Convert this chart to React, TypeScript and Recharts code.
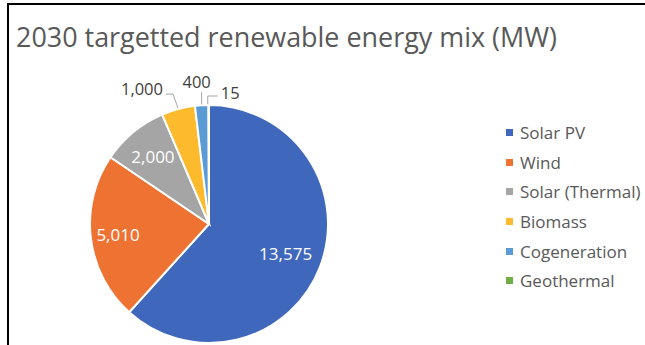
import { Legend, Pie, PieChart, Cell } from "recharts";

const sources = ["Solar PV", "Wind", "Solar (Thermal)", "Biomass", "Cogeneration", "Geothermal"];
const capacityMW = [13575, 5010, 2000, 1000, 400, 15];
const sliceColors = ["#3F68BC", "#EE7232", "#A5A5A5", "#FDBA2C", "#5B9BD5", "#70AD47"];

const data = sources.map((name, i) => ({ name, value: capacityMW[i] }));

const RADIAN = Math.PI / 180;
const FONT = "'Open Sans', 'Noto Sans', sans-serif";

// inside labels sit at a fraction of the radius, outside ones get a leader line
const insideFactor = [0.69, 0.77, 0.74];

// eslint-disable-next-line @typescript-eslint/no-explicit-any
function SliceLabel({ cx, cy, midAngle, outerRadius, index, value }: any) {
  const text = Number(value).toLocaleString("en-US");
  const cos = Math.cos(-midAngle * RADIAN);
  const sin = Math.sin(-midAngle * RADIAN);
  if (index < 3) {
    const r = outerRadius * insideFactor[index];
    return (
      <text
        x={cx + r * cos}
        y={cy + r * sin}
        fill="#fff"
        fontSize={17}
        fontFamily={FONT}
        textAnchor="middle"
        dominantBaseline="central"
      >
        {text}
      </text>
    );
  }
  const ex = cx + (outerRadius + 1) * cos;
  const ey = cy + (outerRadius + 1) * sin;
  let pts = "";
  let tx = 0;
  let ty = 0;
  let anchor: "start" | "middle" | "end" = "middle";
  if (index === 3) {
    pts = `${ex},${ey} ${ex - 5},${ey - 14} ${ex - 12},${ey - 14}`;
    tx = ex - 15;
    ty = ey - 20;
    anchor = "end";
  } else if (index === 4) {
    pts = `${ex},${ey} ${ex},${ey - 12}`;
    tx = ex - 5;
    ty = ey - 23;
  } else {
    pts = `${ex - 1},${ey} ${ex - 1},${ey - 8} ${ex + 9},${ey - 8}`;
    tx = ex + 12;
    ty = ey - 12;
    anchor = "start";
  }
  return (
    <g>
      <polyline points={pts} fill="none" stroke="#A6A6A6" strokeWidth={1} />
      <text
        x={tx}
        y={ty}
        fill="#404040"
        fontSize={16.5}
        fontFamily={FONT}
        textAnchor={anchor}
        dominantBaseline="central"
      >
        {text}
      </text>
    </g>
  );
}

function LegendList() {
  return (
    <div style={{ fontFamily: FONT, fontSize: 17, color: "#595959" }}>
      {sources.map((s, i) => (
        <div key={s} style={{ display: "flex", alignItems: "center", height: 29.6, whiteSpace: "nowrap" }}>
          <span
            style={{
              width: 7,
              height: 7,
              background: sliceColors[i],
              marginRight: 7,
              display: "inline-block",
              flexShrink: 0,
            }}
          />
          {s}
        </div>
      ))}
    </div>
  );
}

export default function App() {
  return (
    <div
      style={{
        position: "absolute",
        left: 0,
        top: 0,
        width: 645,
        height: 345,
        background: "#fff",
        overflow: "hidden",
      }}
    >
      <div
        style={{
          position: "absolute",
          left: 7,
          top: 3,
          width: 700,
          height: 400,
          borderLeft: "2px solid #000",
          borderTop: "2px solid #000",
        }}
      />
      <svg style={{ position: "absolute", left: 0, top: 0 }} width={645} height={70}>
        <text
          x={16}
          y={47}
          fontFamily={FONT}
          fontSize={27}
          fill="#595959"
          textLength={541}
          lengthAdjust="spacingAndGlyphs"
        >
          2030 targetted renewable energy mix (MW)
        </text>
      </svg>
      <div style={{ position: "absolute", left: 0, top: 0 }}>
        <PieChart width={645} height={345}>
          <Pie
            data={data}
            dataKey="value"
            nameKey="name"
            cx={204}
            cy={219}
            outerRadius={119}
            startAngle={90}
            endAngle={-270}
            stroke="#fff"
            strokeWidth={2}
            label={SliceLabel}
            labelLine={false}
            isAnimationActive={false}
          >
            {data.map((d, i) => (
              <Cell key={d.name} fill={sliceColors[i]} />
            ))}
          </Pie>
          <Legend
            layout="vertical"
            content={() => <LegendList />}
            wrapperStyle={{ left: 506, top: 118, width: 145 }}
          />
        </PieChart>
      </div>
    </div>
  );
}
